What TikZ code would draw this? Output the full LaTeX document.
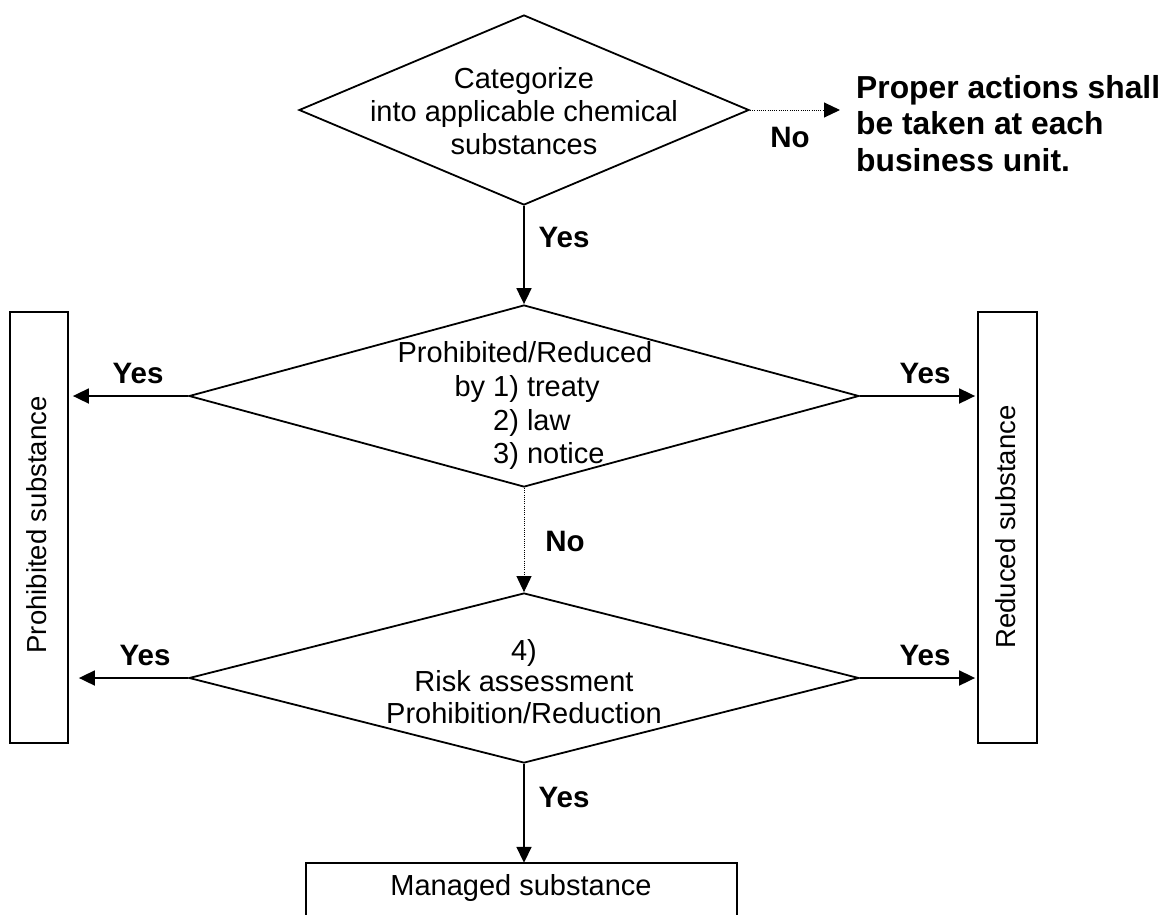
\documentclass[tikz,border=0pt]{standalone}
\usepackage{fontspec}
\setmainfont{Liberation Sans}
\usetikzlibrary{shapes.geometric,arrows.meta}
\tikzset{
  dia/.style={draw, diamond, line width=1.8pt, inner sep=0pt},
  boxx/.style={draw, rectangle, line width=1.8pt, inner sep=0pt},
  txt/.style={font=\fontsize{29}{33}\selectfont, inner sep=0pt, align=center},
  rtxt/.style={font=\fontsize{27.5}{33}\selectfont, inner sep=0pt, rotate=90},
  lbl/.style={font=\fontsize{29.5}{33}\selectfont\bfseries, inner sep=0pt},
  bigb/.style={font=\fontsize{31.8}{36.5}\selectfont\bfseries, inner sep=0pt, align=left},
  arr/.style={line width=1.8pt, -{Triangle[length=16pt,width=15pt]}},
  dotarr/.style={line width=1pt, dash pattern=on 1pt off 1.2pt, -{Triangle[length=16pt,width=15pt]}},
}
\begin{document}
\begin{tikzpicture}[x=1pt,y=-1pt]
\useasboundingbox (0,0) rectangle (1171,914);

% diamonds
\node[dia, minimum width=450pt, minimum height=190pt] (d1) at (524,110) {};
\node[dia, minimum width=670pt, minimum height=182pt] (d2) at (524,396) {};
\node[dia, minimum width=670pt, minimum height=170pt] (d3) at (524,678) {};

% diamond texts
\node[txt, anchor=north] (t1) at (524,67) {Categorize\\into applicable chemical\\substances};
\node[txt, anchor=base] (t2a) at (525,362) {Prohibited/Reduced};
\node[txt, anchor=base west] (t2b) at (493,396) {\llap{by }1) treaty};
\node[txt, anchor=base west] (t2c) at (493,430) {2) law};
\node[txt, anchor=base west] (t2d) at (493,463) {3) notice};
\node[txt, anchor=base] (t3a) at (524,660) {4)};
\node[txt, anchor=base] (t3b) at (524,691) {Risk assessment};
\node[txt, anchor=base] (t3c) at (524,723) {Prohibition/Reduction};

% side boxes
\node[boxx, minimum width=58pt, minimum height=431pt] (pbox) at (39,527.5) {};
\node[rtxt] (ptxt) at (37,525) {Prohibited substance};
\node[boxx, minimum width=59pt, minimum height=431pt] (rbox) at (1007.5,527.5) {};
\node[rtxt] (rtxtn) at (1006,527) {Reduced substance};

% managed box (open bottom, runs off the page)
\node[inner sep=0pt, minimum width=431pt, minimum height=70pt] (mbox) at (521.5,898) {};
\draw[line width=1.8pt] (mbox.south west) |- (mbox.north east) -- (mbox.south east);
\node[txt] (mtxt) at (521,888) {Managed substance};

% proper actions text
\node[bigb, anchor=north west] (act) at (856,75) {Proper actions shall\\be taken at each\\business unit.};
\coordinate (noend) at (840,110);

% connectors
\draw[dotarr] (d1.east) -- (noend);
\draw[arr] (d1.south) -- (d2.north);
\draw[arr, shorten >=4pt] (d2.west) -- (d2.west -| pbox.east);
\draw[arr, shorten >=2pt] (d2.east) -- (d2.east -| rbox.west);
\draw[dotarr] (d2.south) -- (d3.north);
\draw[arr, shorten >=10pt] (d3.west) -- (d3.west -| pbox.east);
\draw[arr, shorten >=2pt] (d3.east) -- (d3.east -| rbox.west);
\draw[arr] (d3.south) -- (d3.south |- mbox.north);

% labels
\node[lbl] (l1) at (790,137) {No};
\node[lbl] (l2) at (564,237) {Yes};
\node[lbl] (l3) at (138,373) {Yes};
\node[lbl] (l4) at (925,373) {Yes};
\node[lbl] (l5) at (565,541) {No};
\node[lbl] (l6) at (145,655) {Yes};
\node[lbl] (l7) at (925,655) {Yes};
\node[lbl] (l8) at (564,797) {Yes};
\end{tikzpicture}
\end{document}
